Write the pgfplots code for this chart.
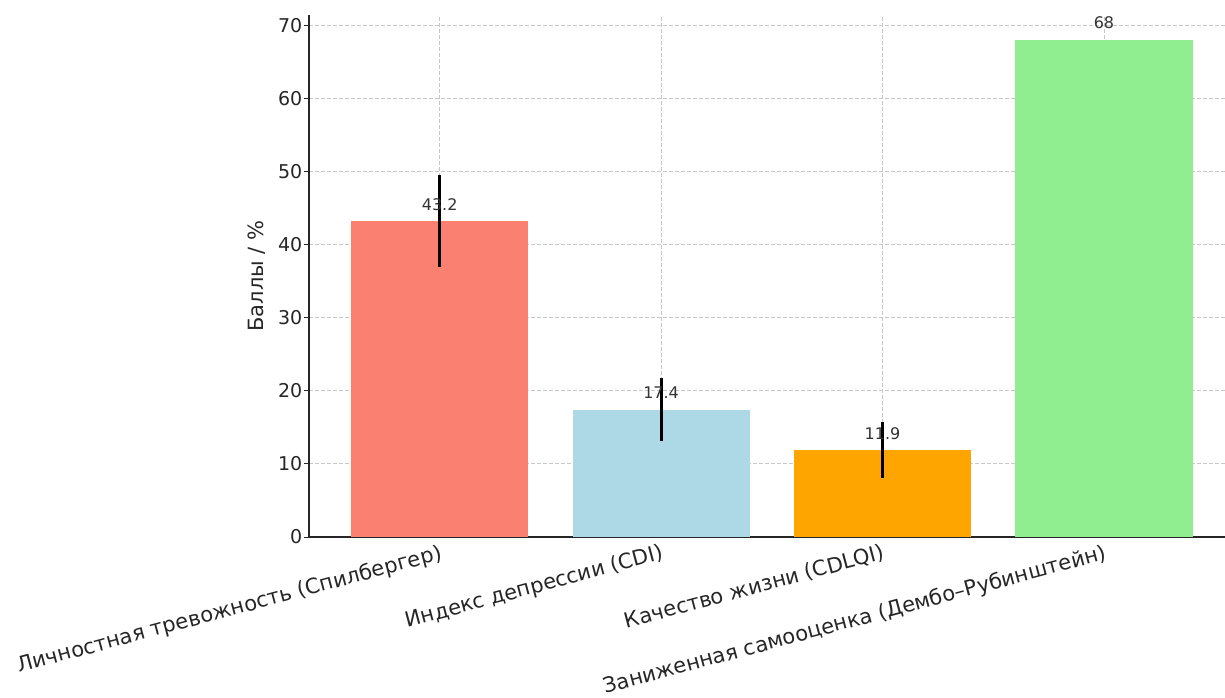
\documentclass[border=0pt]{standalone}
\usepackage{fontspec}
\setmainfont{DejaVu Sans}
\usepackage{pgfplots}
\pgfplotsset{compat=1.18}
\definecolor{salmon}{HTML}{FA8072}
\definecolor{lblue}{HTML}{ADD8E6}
\definecolor{orng}{HTML}{FFA500}
\definecolor{lgreen}{HTML}{90EE90}
\pgfplotsset{
  layers/mylayers/.define layer set={axis background,axis grid,main,axis ticks,axis lines,axis tick labels,axis descriptions,axis foreground}{},
}
\begin{document}
\begin{tikzpicture}
\begin{axis}[
  set layers=mylayers,
  at={(309pt,160pt)}, anchor=south west,
  scale only axis, width=925.6pt, height=522pt,
  xmin=-0.59, xmax=3.59, ymin=0, ymax=71.4,
  ybar, bar width=0.8, bar shift=0pt,
  axis x line*=bottom, axis y line*=left,
  axis line style={black!85, line width=1.1pt},
  xtick={0,1,2,3},
  xticklabels={Личностная тревожность (Спилбергер), Индекс депрессии (CDI), Качество жизни (CDLQI), Заниженная самооценка (Дембо–Рубинштейн)},
  ytick={0,10,...,70},
  /pgf/number format/assume math mode=true,
  tick label style={font=\fontsize{19}{21}\selectfont, text=black!85},
  yticklabel style={inner sep=1.5pt},
  xticklabel style={font=\fontsize{21}{23}\selectfont, rotate=15, anchor=north east, inner sep=2pt, xshift=1pt, yshift=1pt},
  tick align=outside, major tick length=5pt,
  tick style={black!85, line width=1pt},
  x tick style={yshift=5pt},
  grid=major,
  major grid style={black!22, line width=0.8pt, dash pattern=on 4pt off 2pt},
  ylabel={Баллы / \%},
  ylabel style={at={(axis description cs:-0.056,0.5)}, anchor=center, font=\fontsize{21}{23}\selectfont, text=black!85},
  nodes near coords,
  nodes near coords style={anchor=base, yshift=11pt, font=\fontsize{16}{18}\selectfont, text=black!80},
  clip=false,
]
\addplot[fill=salmon, draw=none, error bars/.cd, y dir=both, y explicit, error mark=none, error bar style={line width=3pt, black}]
  coordinates {(0,43.2) +- (0,6.3)};
\addplot[fill=lblue, draw=none, error bars/.cd, y dir=both, y explicit, error mark=none, error bar style={line width=3pt, black}]
  coordinates {(1,17.4) +- (0,4.3)};
\addplot[fill=orng, draw=none, error bars/.cd, y dir=both, y explicit, error mark=none, error bar style={line width=3pt, black}]
  coordinates {(2,11.9) +- (0,3.8)};
\addplot[fill=lgreen, draw=none]
  coordinates {(3,68)};
\end{axis}
\pgfresetboundingbox
\useasboundingbox (0,0) rectangle (1225pt,697pt);
\end{tikzpicture}
\end{document}
